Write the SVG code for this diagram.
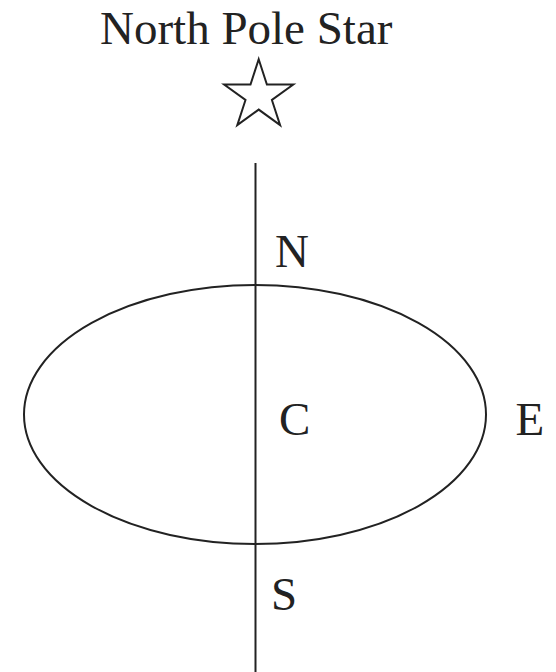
<svg xmlns="http://www.w3.org/2000/svg" width="556" height="672" viewBox="0 0 556 672">
<style>
.t{font-family:"Liberation Serif","Times New Roman",serif;font-size:47px;fill:#222}
.s{fill:none;stroke:#222;stroke-width:2}
</style>
<rect width="556" height="672" fill="#fff"/>
<g id="title"><text class="t" x="100" y="44">North Pole Star</text></g>
<g id="star"><path class="s" stroke-linejoin="miter" d="M258.7,59.3 L266.9,84.45 L293.3,84.45 L271.9,100 L280.1,125.15 L258.7,109.6 L237.3,125.15 L245.5,100 L224.1,84.45 L250.5,84.45 Z"/></g>
<g id="orbit"><ellipse class="s" cx="255" cy="414.5" rx="231" ry="129.5"/></g>
<g id="connectors"><line class="s" x1="255.5" y1="163" x2="255.5" y2="672"/></g>
<g id="N"><text class="t" x="275" y="267">N</text></g>
<g id="C"><text class="t" x="279" y="435">C</text></g>
<g id="E"><text class="t" x="515.5" y="435">E</text></g>
<g id="S"><text class="t" x="271" y="609.5">S</text></g>
</svg>
